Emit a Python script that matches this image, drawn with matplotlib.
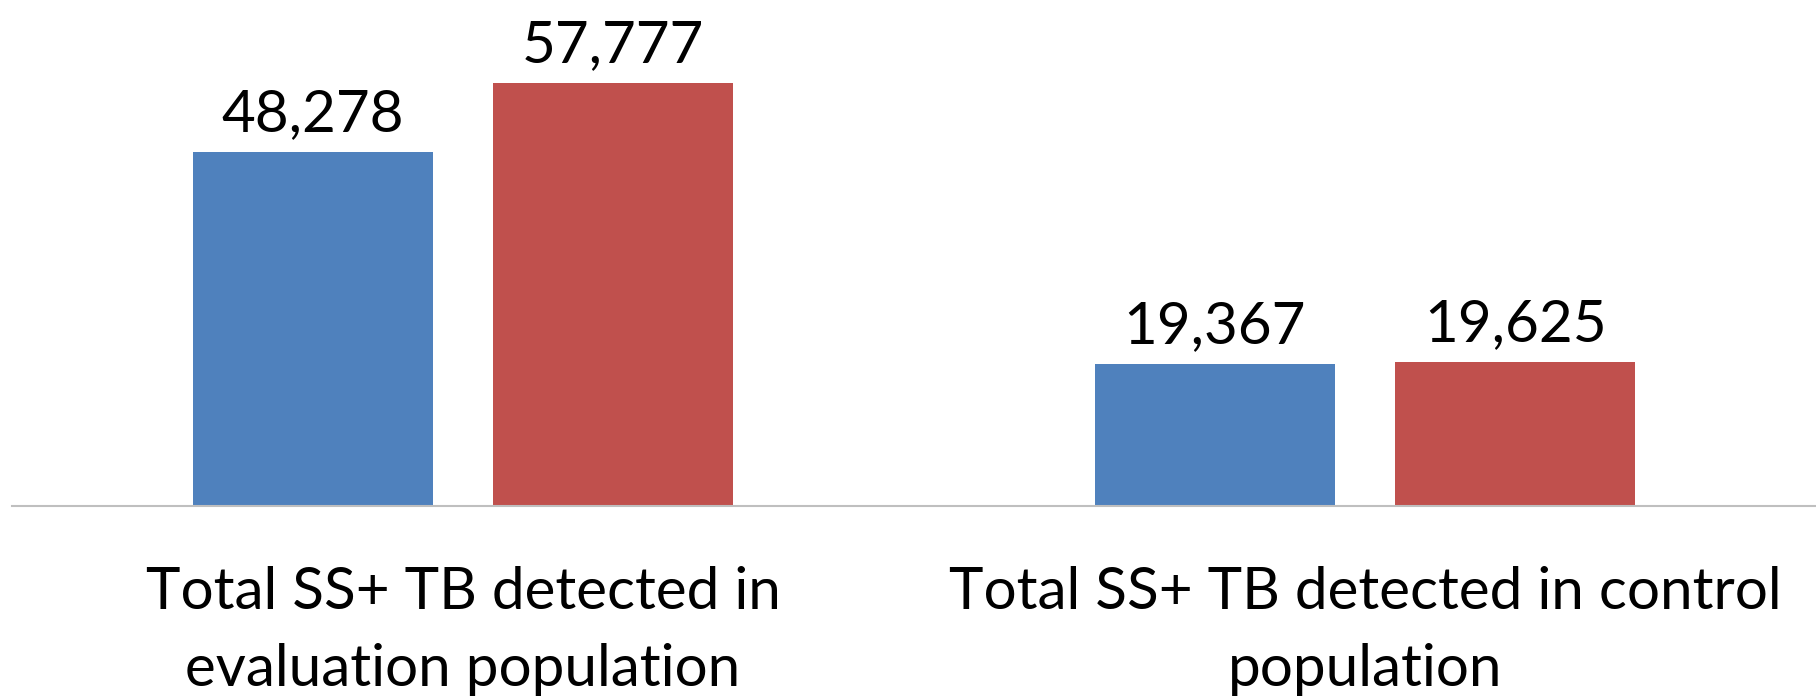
import matplotlib.pyplot as plt
import numpy as np

plt.rcParams['font.family'] = ['Lato', 'DejaVu Sans']

categories = ["Total SS+ TB detected in\nevaluation population",
              "Total SS+ TB detected in control\npopulation"]
series_a = [48278, 19367]
series_b = [57777, 19625]

blue = "#4F81BD"
red = "#C0504D"

fig = plt.figure(figsize=(18.16, 6.98), dpi=100)
ax = fig.add_axes([12 / 1816, 1 - 506 / 698, 1 - 12 / 1816, 506 / 698])

x = np.arange(len(categories)) + 0.5
w = 0.266
off = 0.1665
bars_a = ax.bar(x - off, series_a, width=w, color=blue)
bars_b = ax.bar(x + off, series_b, width=w, color=red)

for bars in (bars_a, bars_b):
    ax.bar_label(bars, labels=[f"{v:,}" for v in bars.datavalues],
                 padding=8, fontsize=42, color="black")

ax.set_xlim(0, 2)
ax.set_ylim(0, 69100)
ax.set_yticks([])
ax.set_xticks(x)
ax.set_xticklabels(categories, fontsize=42, linespacing=1.56)
ax.tick_params(axis='x', length=0, pad=43)

for s in ['top', 'right', 'left']:
    ax.spines[s].set_visible(False)
ax.spines['bottom'].set_color('#BFBFBF')
ax.spines['bottom'].set_linewidth(1.5)

plt.savefig('out.png', dpi=100)
